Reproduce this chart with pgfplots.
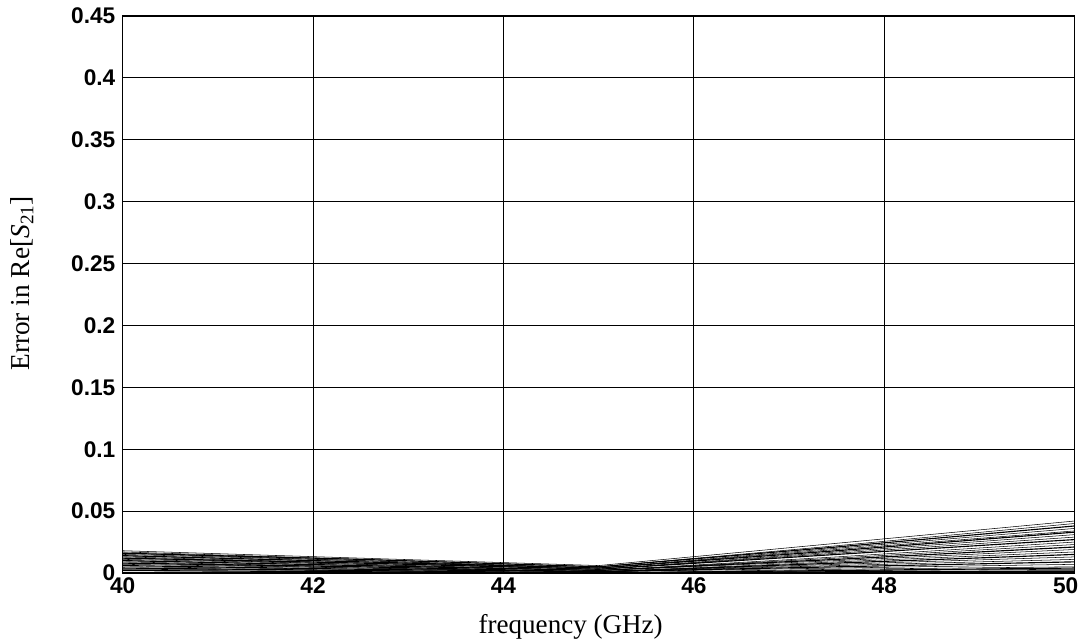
\documentclass[border=0pt]{standalone}
\usepackage{pgfplots}
\pgfplotsset{compat=1.18}
\usepackage{fontspec}
\setmainfont{Liberation Serif}
\newfontfamily\arialbold{Liberation Sans Bold}
\begin{document}
\begin{tikzpicture}
\begin{axis}[
  name=ax,
  width=714pt, height=417.75pt, scale only axis,
  xmin=40, xmax=50, ymin=0, ymax=0.45,
  xtick={40,42,...,50}, ytick={0,0.05,...,0.45},
  xticklabels={40,42,44,46,48,{\hspace*{-13.5pt}50}},
  yticklabels={0,0.05,0.1,0.15,0.2,0.25,0.3,0.35,0.4,0.45},
  grid=major, major grid style={black, line width=0.6pt},
  axis line style={black, line width=0.9pt},
  tick style={draw=none},
  /pgf/number format/assume math mode=true,
  ticklabel style={font=\arialbold\fontsize{17}{18}\selectfont},
  yticklabel style={xshift=-2pt},
  xticklabel style={text height=12pt, text depth=0pt, yshift=0pt},
  xlabel={frequency (GHz)}, ylabel={Error in Re[\textit{S}\textsubscript{21}]},
  every axis x label/.style={at={(axis description cs:0.4706,-0.097)}, anchor=center, font=\fontsize{20.3}{22}\selectfont},
  every axis y label/.style={at={(axis description cs:-0.106,0.52)}, anchor=center, rotate=90, font=\fontsize{20.5}{22}\selectfont},
  cycle list={{black, solid, line width=0.85pt}},
]
\addplot coordinates {(40,0.018)(42.5,0.012)(45,0.006)(47.5,0.024)(50,0.042)};
\addplot coordinates {(40,0.017)(42.5,0.011)(45,0.005)(47.5,0.022)(50,0.040)};
\addplot coordinates {(40,0.016)(42.5,0.011)(45,0.005)(47.5,0.021)(50,0.038)};
\addplot coordinates {(40,0.016)(42.5,0.010)(45,0.004)(47.5,0.020)(50,0.036)};
\addplot coordinates {(40,0.015)(42.5,0.010)(45,0.004)(47.5,0.019)(50,0.034)};
\addplot coordinates {(40,0.014)(42.5,0.009)(45,0.004)(47.5,0.018)(50,0.033)};
\addplot coordinates {(40,0.014)(42.5,0.009)(45,0.003)(47.5,0.017)(50,0.031)};
\addplot coordinates {(40,0.013)(42.5,0.008)(45,0.003)(47.5,0.016)(50,0.029)};
\addplot coordinates {(40,0.012)(42.5,0.008)(45,0.003)(47.5,0.015)(50,0.027)};
\addplot coordinates {(40,0.012)(42.5,0.007)(45,0.002)(47.5,0.013)(50,0.025)};
\addplot coordinates {(40,0.011)(42.5,0.007)(45,0.002)(47.5,0.012)(50,0.023)};
\addplot coordinates {(40,0.010)(42.5,0.006)(45,0.002)(47.5,0.011)(50,0.021)};
\addplot coordinates {(40,0.010)(42.5,0.006)(45,0.002)(47.5,0.010)(50,0.019)};
\addplot coordinates {(40,0.009)(42.5,0.005)(45,0.001)(47.5,0.009)(50,0.017)};
\addplot coordinates {(40,0.008)(42.5,0.005)(45,0.001)(47.5,0.008)(50,0.015)};
\addplot coordinates {(40,0.008)(42.5,0.004)(45,0.001)(47.5,0.007)(50,0.013)};
\addplot coordinates {(40,0.007)(42.5,0.004)(45,0.001)(47.5,0.006)(50,0.011)};
\addplot coordinates {(40,0.006)(42.5,0.003)(45,0.001)(47.5,0.005)(50,0.009)};
\addplot coordinates {(40,0.005)(42.5,0.003)(45,0.001)(47.5,0.004)(50,0.007)};
\addplot coordinates {(40,0.004)(42.5,0.002)(45,0.000)(47.5,0.003)(50,0.005)};
\addplot coordinates {(40,0.004)(42.5,0.002)(45,0.000)(47.5,0.002)(50,0.004)};
\addplot coordinates {(40,0.003)(42.5,0.002)(45,0.000)(47.5,0.002)(50,0.003)};
\addplot coordinates {(40,0.002)(42.5,0.001)(45,0.000)(47.5,0.001)(50,0.002)};
\addplot coordinates {(40,0.002)(42.5,0.001)(45,0.000)(47.5,0.001)(50,0.001)};
\end{axis}
\pgfresetboundingbox
\path ([xshift=-92pt,yshift=-53pt]ax.south west) rectangle ([xshift=7pt,yshift=12pt]ax.north east);
\end{tikzpicture}
\end{document}
